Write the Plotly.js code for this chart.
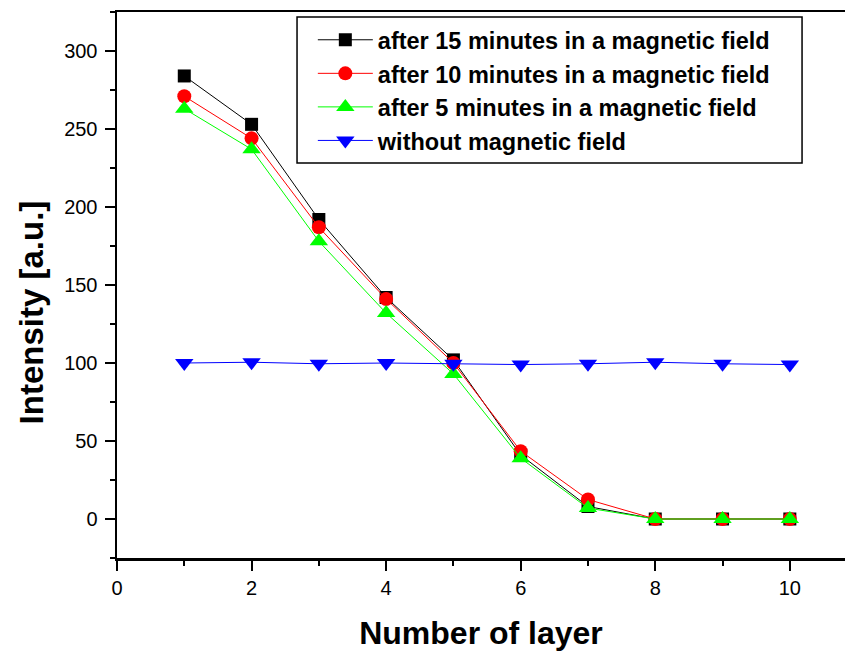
<!DOCTYPE html>
<html>
<head>
<meta charset="utf-8">
<script src="https://cdn.plot.ly/plotly-3.0.1.min.js"></script>
<style>html,body{margin:0;padding:0;background:#fff;}#chart{width:845px;height:651px;}</style>
</head>
<body>
<div id="chart"></div>
<script>
var layers = [1, 2, 3, 4, 5, 6, 7, 8, 9, 10];
var after15 = [284, 253, 192, 142, 102, 41, 8, 0, 0, 0];
var after10 = [271, 244, 187, 141, 100, 43.5, 12.5, 0, 0, 0];
var after5 = [263, 237, 178, 132, 93, 39, 7, 0, 0, 0];
var without = [100, 100.5, 99.5, 100, 99.5, 99, 99.5, 100.5, 99.5, 99];
var names = ['after 15 minutes in a magnetic field', 'after 10 minutes in a magnetic field',
             'after 5 minutes in a magnetic field', 'without magnetic field'];
var xTitle = 'Number of layer';
var yTitle = 'Intensity [a.u.]';

function tr(y, name, color, symbol, size) {
  return {x: layers, y: y, name: name, type: 'scatter', mode: 'lines+markers',
    line: {color: color, width: 1}, marker: {color: color, symbol: symbol, size: size}};
}
var data = [
  tr(after15, names[0], '#000000', 'square', 13),
  tr(after10, names[1], '#ff0000', 'circle', 14),
  tr(after5, names[2], '#00ff00', 'triangle-up', 16),
  tr(without, names[3], '#0000ff', 'triangle-down', 16)
];
var layout = {
  width: 845, height: 651,
  margin: {l: 117, r: 0, t: 12, b: 93},
  paper_bgcolor: '#fff', plot_bgcolor: '#fff',
  font: {family: 'Liberation Sans, Arial, sans-serif', color: '#000'},
  showlegend: true,
  legend: {x: 0.269, y: 0.989, xanchor: 'left', yanchor: 'top',
    bgcolor: 'rgba(0,0,0,0)', borderwidth: 0,
    font: {family: 'Liberation Sans, Arial, sans-serif', size: 23.5, weight: 'bold', color: '#000'},
    itemwidth: 55, tracegroupgap: 0},
  shapes: [{type: 'rect', xref: 'paper', yref: 'paper', x0: 0.2473, x1: 0.941, y0: 0.7234, y1: 0.9908,
    line: {color: '#000', width: 1.5}, fillcolor: 'rgba(0,0,0,0)', layer: 'above'}],
  annotations: [{text: yTitle, xref: 'paper', yref: 'paper', x: -0.118, y: 0.45, xanchor: 'center', yanchor: 'middle',
    textangle: -90, showarrow: false, font: {family: 'Liberation Sans, Arial', size: 33, weight: 'bold', color: '#000'}}],
  xaxis: {range: [0, 10.82], dtick: 2, tick0: 0, showgrid: false, zeroline: false,
    showline: true, linewidth: 2.5, linecolor: '#000', mirror: true,
    ticks: 'outside', ticklen: 10, tickwidth: 2, tickcolor: '#000',
    minor: {dtick: 1, ticks: 'outside', ticklen: 5, tickwidth: 2, tickcolor: '#000'},
    tickfont: {family: 'Liberation Sans, Arial', size: 20},
    title: {text: xTitle, font: {family: 'Liberation Sans, Arial', size: 32, weight: 'bold'}, standoff: 24}},
  yaxis: {range: [-25, 325], dtick: 50, tick0: 0, showgrid: false, zeroline: false,
    showline: true, linewidth: 2.5, linecolor: '#000',
    ticks: 'outside', ticklen: 10, tickwidth: 2, tickcolor: '#000',
    minor: {dtick: 25, ticks: 'outside', ticklen: 5, tickwidth: 2, tickcolor: '#000'},
    tickfont: {family: 'Liberation Sans, Arial', size: 20}, ticklabelstandoff: 3}
};
Plotly.newPlot('chart', data, layout, {displayModeBar: false, staticPlot: true});
</script>
</body>
</html>
